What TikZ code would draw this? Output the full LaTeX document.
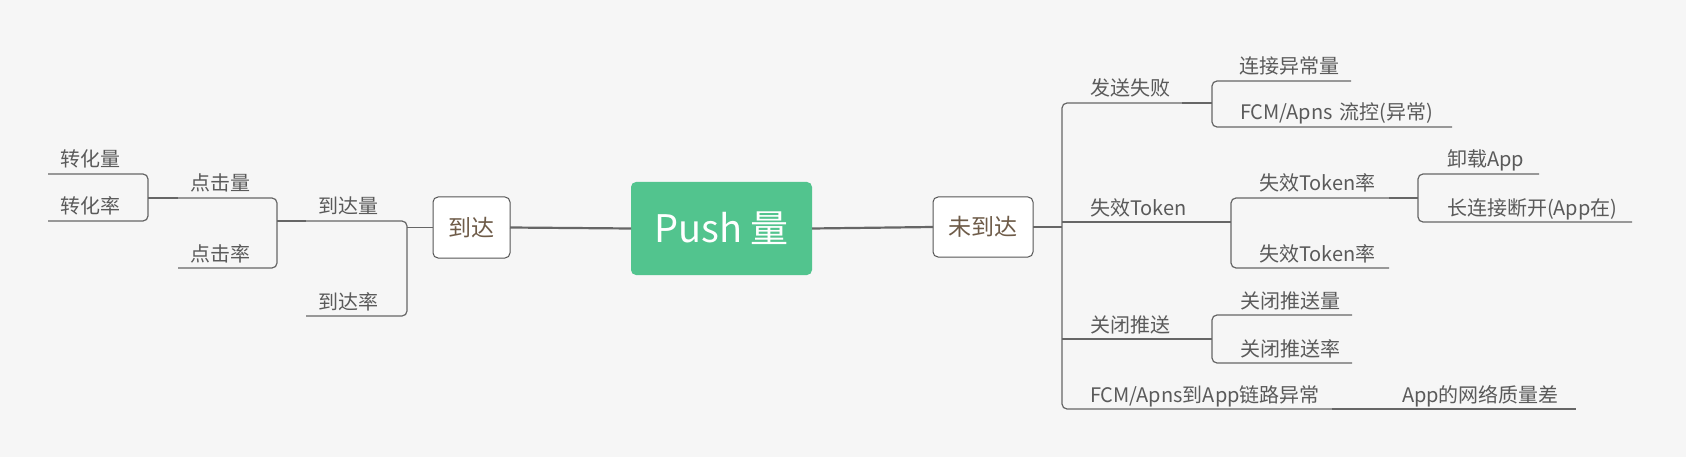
\documentclass[tikz,border=0pt]{standalone}
\usepackage{fontspec}
\setmainfont{Noto Sans CJK SC}
\definecolor{paper}{HTML}{F6F6F6}
\definecolor{pushgreen}{HTML}{52C48E}
\definecolor{linegrey}{HTML}{666666}
\definecolor{textgrey}{HTML}{5A5A5A}
\definecolor{boxbrown}{HTML}{6E5B48}
\definecolor{boxline}{HTML}{555555}
\usepackage{tikz}
\tikzstyle{base}=[x=1pt, y=-1pt, inner sep=0pt, outer sep=0pt]
\tikzstyle{topic}=[anchor=south west, inner xsep=12pt, inner ysep=0pt, text height=17pt, text depth=7pt, text=textgrey, align=left, font=\fontsize{20}{24}\selectfont]
\tikzstyle{branch}=[draw=boxline, fill=white, rounded corners=5pt, line width=1pt, text=boxbrown, font=\fontsize{23}{28}\selectfont]
\tikzstyle{link}=[draw=linegrey, line width=1.2pt, rounded corners=5pt]
\tikzstyle{mainlink}=[draw=linegrey, line width=2.2pt]

\begin{document}
\begin{tikzpicture}[base]
    \fill [paper] (0,0) rectangle (1686,457);
    \path [use as bounding box] (0,0) rectangle (1686,457);
    % centre and the two main branches
    \node [fill=pushgreen, rounded corners=5pt, minimum width=181pt, minimum height=93pt, text=white, font=\fontsize{38}{44}\selectfont] (push) at (721.5,228.5) {Push 量};
    \node [branch, minimum width=77pt, minimum height=61pt] (arrive) at (471.5,227.5) {到达};
    \node [branch, minimum width=100pt, minimum height=60pt] (miss) at (983,227) {未到达};
    \draw [mainlink] (arrive.east) -- (push.west);
    \draw [mainlink] (push.east) -- (miss.west);
    % left side
    \coordinate (kArrive) at (407,0);
    \coordinate (kReach) at (277,0);
    \coordinate (kClick) at (148,0);
    \node [topic] (reachVol) at (306,221) {到达量};
    \node [topic] (reachRate) at (306,316) {到达率};
    \node [topic] (clickVol) at (178,198) {点击量};
    \node [topic] (clickRate) at (178,268) {点击率};
    \node [topic] (convVol) at (48,174) {转化量};
    \node [topic] (convRate) at (48,221) {转化率};
    \draw [link] (arrive.west) -- (arrive.west -| kArrive);
    \draw [link] (reachVol.south west) -- (reachVol.south west -| kArrive) -- (reachRate.south west -| kArrive) -- (reachRate.south west);
    \draw [link] (reachVol.south west) -- (reachVol.south west -| kReach);
    \draw [link] (clickVol.south west) -- (clickVol.south west -| kReach) -- (clickRate.south west -| kReach) -- (clickRate.south west);
    \draw [link] (clickVol.south west) -- (clickVol.south west -| kClick);
    \draw [link] (convVol.south west) -- (convVol.south west -| kClick) -- (convRate.south west -| kClick) -- (convRate.south west);
    % right side
    \coordinate (kMiss) at (1062,0);
    \coordinate (kSend) at (1212,0);
    \coordinate (kToken) at (1231,0);
    \coordinate (kRate) at (1418,0);
    \coordinate (kClose) at (1212,0);
    \node [topic] (sendFail) at (1078,103) {发送失败};
    \node [topic] (token) at (1078,222) {失效Token};
    \node [topic] (close) at (1078,339) {关闭推送};
    \node [topic] (fcmLink) at (1078,409) {FCM/Apns到App链路异常};
    \node [topic] (connErr) at (1227,81) {连接异常量};
    \node [topic, text width=200pt] (flowCtl) at (1228,127) {FCM/Apns 流控(异常)};
    \node [topic, text width=118pt] (tokenRateA) at (1247,198) {失效Token率};
    \node [topic, text width=118pt] (tokenRateB) at (1247,268) {失效Token率};
    \node [topic, text width=80pt] (uninstall) at (1435,174) {卸载App};
    \node [topic, text width=173pt] (longConn) at (1435,222) {长连接断开(App在)};
    \node [topic] (closeVol) at (1228,315) {关闭推送量};
    \node [topic] (closeRate) at (1228,363) {关闭推送率};
    \node [topic, text width=162pt] (netBad) at (1390,409) {App的网络质量差};
    \draw [link] (miss.east) -- (miss.east -| kMiss);
    \draw [link] (sendFail.south east) -- (sendFail.south east -| kMiss) -- (fcmLink.south east -| kMiss) -- (fcmLink.south east);
    \draw [link] (token.south east -| kMiss) -- (token.south east -| kToken);
    \draw [link] (close.south east -| kMiss) -- (close.south east -| kClose);
    \draw [link] (sendFail.south east) -- (sendFail.south east -| kSend);
    \draw [link] (connErr.south east) -- (connErr.south east -| kSend) -- (flowCtl.south east -| kSend) -- (flowCtl.south east);
    \draw [link] (tokenRateA.south east) -- (tokenRateA.south east -| kToken) -- (tokenRateB.south east -| kToken) -- (tokenRateB.south east);
    \draw [link] (tokenRateA.south east) -- (tokenRateA.south east -| kRate);
    \draw [link] (uninstall.south east) -- (uninstall.south east -| kRate) -- (longConn.south east -| kRate) -- (longConn.south east);
    \draw [link] (closeVol.south east) -- (closeVol.south east -| kClose) -- (closeRate.south east -| kClose) -- (closeRate.south east);
    \draw [link] (fcmLink.south east) -- (netBad.south west) -- (netBad.south east);
\end{tikzpicture}
\end{document}
